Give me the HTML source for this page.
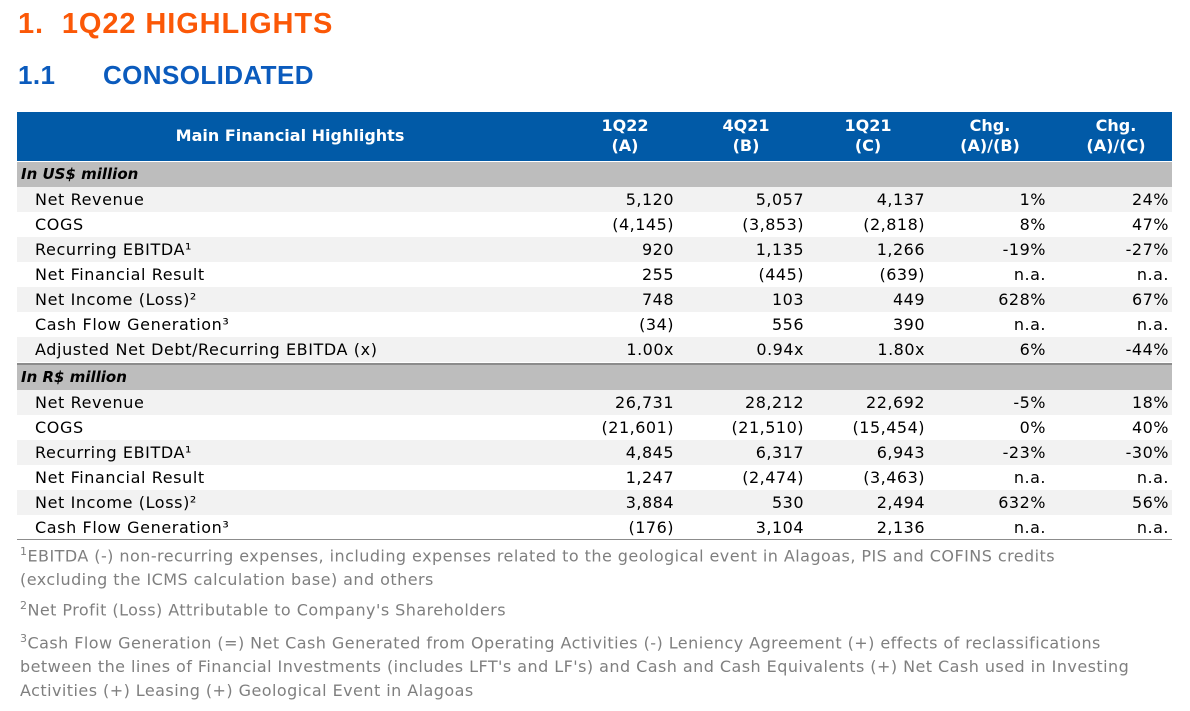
<!DOCTYPE html>
<html><head><meta charset="utf-8"><style>
body{margin:0;width:1190px;height:711px;background:#fff;position:relative;overflow:hidden;font-family:"DejaVu Sans","Liberation Sans",sans-serif;}
.a{position:absolute;white-space:nowrap;}
.t1{left:18px;top:8px;font-size:29px;font-weight:bold;color:#fb5807;font-family:"Liberation Sans",sans-serif;letter-spacing:0.9px}
.t2{top:60px;font-size:26px;font-weight:bold;color:#0b5bbd;font-family:"Liberation Sans",sans-serif;letter-spacing:0.4px}
.hdr{left:17px;top:112px;width:1155px;height:49px;background:#015aa7;}
.h{color:#fff;font-weight:bold;font-size:16px;text-align:center;line-height:20px;font-family:"DejaVu Sans",sans-serif}
.band{left:17px;width:1155px;height:25px;background:#bdbdbd;}
.row{left:17px;width:1155px;height:25px;}
.c{font-size:16px;line-height:25px;color:#000;letter-spacing:0.5px}
.lab{font-size:16px;line-height:25px;color:#000;left:35px;letter-spacing:0.6px}
.note{left:20px;font-size:16px;color:#7f7f7f;line-height:24px;font-family:"DejaVu Sans",sans-serif;white-space:normal;width:1135px;letter-spacing:0.45px}
</style></head><body>
<div class="a t1">1.&nbsp; 1Q22 HIGHLIGHTS</div>
<div class="a t2" style="left:18px">1.1</div>
<div class="a t2" style="left:103px">CONSOLIDATED</div>
<div class="a hdr"></div>
<div class="a h" style="left:150px;top:126px;width:280px">Main Financial Highlights</div>
<div class="a h" style="left:575px;top:116px;width:100px">1Q22<br>(A)</div>
<div class="a h" style="left:696px;top:116px;width:100px">4Q21<br>(B)</div>
<div class="a h" style="left:818px;top:116px;width:100px">1Q21<br>(C)</div>
<div class="a h" style="left:940px;top:116px;width:100px">Chg.<br>(A)/(B)</div>
<div class="a h" style="left:1066px;top:116px;width:100px">Chg.<br>(A)/(C)</div>
<div id="tbl"></div>
<div class="a" style="left:17px;top:363px;width:1155px;height:2px;background:#8c8c8c"></div>
<div class="a" style="left:17px;top:539px;width:1155px;height:1px;background:#8c8c8c"></div>
<div class="a note" style="top:540px;width:1100px"><sup style="font-size:11px">1</sup>EBITDA (-) non-recurring expenses, including expenses related to the geological event in Alagoas, PIS and COFINS credits (excluding the ICMS calculation base) and others</div>
<div class="a note" style="top:594px"><sup style="font-size:11px">2</sup>Net Profit (Loss) Attributable to Company's Shareholders</div>
<div class="a note" style="top:627px"><sup style="font-size:11px">3</sup>Cash Flow Generation (=) Net Cash Generated from Operating Activities (-) Leniency Agreement (+) effects of reclassifications between the lines of Financial Investments (includes LFT's and LF's) and Cash and Cash Equivalents (+) Net Cash used in Investing Activities (+) Leasing (+) Geological Event in Alagoas</div>
<script>
const usdLabels=["Net Revenue","COGS","Recurring EBITDA¹","Net Financial Result","Net Income (Loss)²","Cash Flow Generation³","Adjusted Net Debt/Recurring EBITDA (x)"];
const usdA=["5,120","(4,145)","920","255","748","(34)","1.00x"];
const usdB=["5,057","(3,853)","1,135","(445)","103","556","0.94x"];
const usdC=["4,137","(2,818)","1,266","(639)","449","390","1.80x"];
const usdAB=["1%","8%","-19%","n.a.","628%","n.a.","6%"];
const usdAC=["24%","47%","-27%","n.a.","67%","n.a.","-44%"];
const brlLabels=["Net Revenue","COGS","Recurring EBITDA¹","Net Financial Result","Net Income (Loss)²","Cash Flow Generation³"];
const brlA=["26,731","(21,601)","4,845","1,247","3,884","(176)"];
const brlB=["28,212","(21,510)","6,317","(2,474)","530","3,104"];
const brlC=["22,692","(15,454)","6,943","(3,463)","2,494","2,136"];
const brlAB=["-5%","0%","-23%","n.a.","632%","n.a."];
const brlAC=["18%","40%","-30%","n.a.","56%","n.a."];
const rights=[674,804,925,1046,1169];
const T=document.getElementById('tbl');
function div(cls,style,txt){const d=document.createElement('div');d.className='a '+cls;d.style.cssText=style;if(txt!==undefined)d.textContent=txt;T.appendChild(d);return d;}
function band(top,text,name){
  const b=div('band','top:'+top+'px');
  
  
  const l=div('c','left:21px;top:'+top+'px;font-weight:bold;font-style:italic;font-size:15px;letter-spacing:0',text);
  
  
}
function block(top,labels,cols,name){
  labels.forEach((lab,i)=>{
    const y=top+i*25;
    const r=div('row','top:'+y+'px;background:'+(i%2==0?'#f2f2f2':'#fff'));
    
    
    const l=div('lab','top:'+y+'px',lab);
    
    
    cols.forEach((col,j)=>{
      const c=div('c','top:'+y+'px;right:'+(1190-rights[j])+'px',col[i]);
      
      
    });
  });
}
band(162,'In US$ million','usd');
block(187,usdLabels,[usdA,usdB,usdC,usdAB,usdAC],'usd');
band(365,'In R$ million','brl');
block(390,brlLabels,[brlA,brlB,brlC,brlAB,brlAC],'brl');
</script>
</body></html>
